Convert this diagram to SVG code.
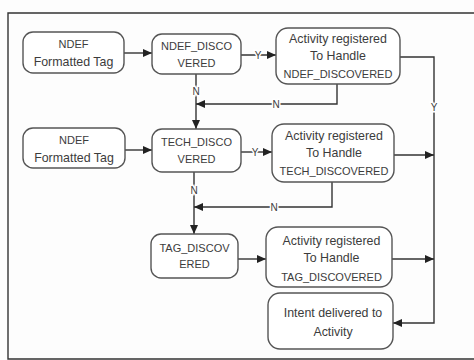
<svg xmlns="http://www.w3.org/2000/svg" width="474" height="360" viewBox="0 0 474 360">
<style>
.box{fill:#fff;stroke:#555;stroke-width:1.4}
.t{font-family:"Liberation Sans",Arial,sans-serif;font-size:11px;fill:#3c3c3c;text-anchor:middle}
.m{font-size:12.4px}
.c{fill:none;stroke:#333;stroke-width:1.4}
.lbl{font-family:"Liberation Sans",Arial,sans-serif;font-size:10px;fill:#3c3c3c;text-anchor:middle;stroke:#fff;stroke-width:3;paint-order:stroke}
</style>
<defs>
<marker id="ah" markerUnits="userSpaceOnUse" markerWidth="9" markerHeight="8" refX="9" refY="4" orient="auto">
<path d="M0,0 L9,4 L0,8 z" fill="#222"/>
</marker>
</defs>
<rect x="0" y="0" width="474" height="360" fill="#fdfdfd"/>
<path d="M480,13 L8,13 L8,359 L480,359" fill="none" stroke="#333" stroke-width="1.4"/>
<g id="connectors">
<path class="c" d="M124,53 L152,53" marker-end="url(#ah)"/>
<path class="c" d="M241,55 L276,55" marker-end="url(#ah)"/>
<path class="c" d="M400,57 L434,57 L434,323 L393,323" marker-end="url(#ah)"/>
<path class="c" d="M196,74 L196,129" marker-end="url(#ah)"/>
<path class="c" d="M337,84 L337,104 L196,104" marker-end="url(#ah)"/>
<path class="c" d="M125,150 L152,150" marker-end="url(#ah)"/>
<path class="c" d="M241,152 L272,152" marker-end="url(#ah)"/>
<path class="c" d="M394,155 L434,155" marker-end="url(#ah)"/>
<path class="c" d="M194,172 L194,234" marker-end="url(#ah)"/>
<path class="c" d="M332,182 L332,207 L194,207" marker-end="url(#ah)"/>
<path class="c" d="M238,259 L266,259" marker-end="url(#ah)"/>
<path class="c" d="M392,259 L434,259" marker-end="url(#ah)"/>
<text class="lbl" x="258" y="59">Y</text>
<text class="lbl" x="434" y="111">Y</text>
<text class="lbl" x="196" y="95">N</text>
<text class="lbl" x="276" y="108">N</text>
<text class="lbl" x="255" y="156">Y</text>
<text class="lbl" x="194" y="194">N</text>
<text class="lbl" x="274" y="211">N</text>
</g>
<g id="ndef_tag_1">
<rect class="box" x="23" y="32" width="101" height="41" rx="10"/>
<text class="t" x="73.5" y="48">NDEF</text>
<text class="t m" x="73.5" y="66">Formatted Tag</text>
</g>
<g id="ndef_discovered">
<rect class="box" x="152" y="34" width="89" height="40" rx="10"/>
<text class="t" x="196.5" y="50">NDEF_DISCO</text>
<text class="t" x="196.5" y="67">VERED</text>
</g>
<g id="activity_ndef">
<rect class="box" x="276" y="28" width="124" height="56" rx="12"/>
<text class="t m" x="338" y="43">Activity registered</text>
<text class="t m" x="338" y="60">To Handle</text>
<text class="t" x="338" y="78">NDEF_DISCOVERED</text>
</g>
<g id="ndef_tag_2">
<rect class="box" x="23" y="128" width="102" height="40" rx="10"/>
<text class="t" x="74" y="144">NDEF</text>
<text class="t m" x="74" y="162">Formatted Tag</text>
</g>
<g id="tech_discovered">
<rect class="box" x="152" y="129" width="89" height="43" rx="10"/>
<text class="t" x="196.5" y="146">TECH_DISCO</text>
<text class="t" x="196.5" y="163">VERED</text>
</g>
<g id="activity_tech">
<rect class="box" x="272" y="124" width="122" height="58" rx="12"/>
<text class="t m" x="334" y="140">Activity registered</text>
<text class="t m" x="334" y="157">To Handle</text>
<text class="t" x="334" y="175">TECH_DISCOVERED</text>
</g>
<g id="tag_discovered">
<rect class="box" x="151" y="234" width="87" height="44" rx="10"/>
<text class="t" x="194.5" y="252">TAG_DISCOV</text>
<text class="t" x="194.5" y="268">ERED</text>
</g>
<g id="activity_tag">
<rect class="box" x="266" y="227" width="126" height="60" rx="12"/>
<text class="t m" x="331.5" y="245">Activity registered</text>
<text class="t m" x="331.5" y="262">To Handle</text>
<text class="t" x="331.5" y="281">TAG_DISCOVERED</text>
</g>
<g id="intent_delivered">
<rect class="box" x="268" y="293" width="125" height="56" rx="12"/>
<text class="t m" x="333" y="317">Intent delivered to</text>
<text class="t m" x="333" y="336">Activity</text>
</g>
</svg>
